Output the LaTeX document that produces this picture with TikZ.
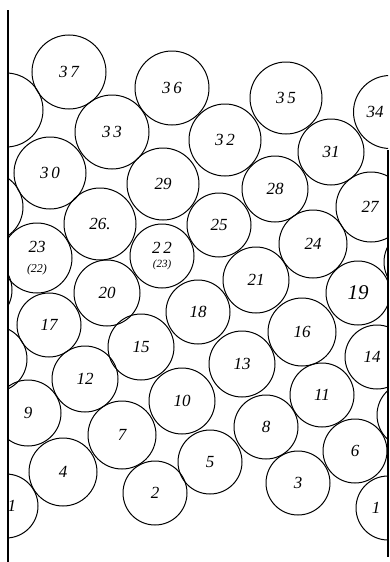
\documentclass[tikz,border=0pt]{standalone}
\usepackage{fontspec}
\setmainfont{Liberation Serif}
\begin{document}
\begin{tikzpicture}[x=1pt,y=-1pt,
  ball/.style={draw, circle, line width=1pt, inner sep=0pt, font=\fontsize{17}{19}\selectfont\itshape, align=center},
  wall/.style={line width=1.4pt}]
\useasboundingbox (0,0) rectangle (390,562);
\begin{scope}
\clip (8,0) rectangle (388,562);
% partial balls against the walls
\node[ball, minimum size=74pt] (pL1) at (6,110) {};
\node[ball, minimum size=70pt] (pL2) at (-12,207) {};
\node[ball, minimum size=66pt] (pL3) at (-21,290) {};
\node[ball, minimum size=66pt] (pL4) at (-6,359) {};
\node[ball, minimum size=66pt] (pR1) at (417,262) {};
\node[ball, minimum size=66pt] (pR2) at (410,415) {};
% numbered balls
\node[ball, minimum size=74pt] (b37) at (69,72) {3\,7};
\node[ball, minimum size=74pt] (b36) at (172,88) {3\,6};
\node[ball, minimum size=72pt] (b35) at (286,98) {3\,5};
\node[ball, minimum size=73pt] (b34) at (390,112) {\hspace*{-30pt}34};
\node[ball, minimum size=74pt] (b33) at (112,132) {3\,3};
\node[ball, minimum size=72pt] (b32) at (225,140) {3\,2};
\node[ball, minimum size=66pt] (b31) at (331,152) {31};
\node[ball, minimum size=72pt] (b30) at (50,173) {3\,0};
\node[ball, minimum size=72pt] (b29) at (163,184) {29};
\node[ball, minimum size=66pt] (b28) at (275,189) {28};
\node[ball, minimum size=70pt] (b27) at (371,207) {\hspace*{-2pt}27};
\node[ball, minimum size=72pt] (b26) at (100,224) {26.};
\node[ball, minimum size=64pt] (b25) at (219,225) {25};
\node[ball, minimum size=68pt] (b24) at (313,244) {24};
\node[ball, minimum size=70pt] (b23) at (37,258) {23\\[1pt]{\fontsize{12}{13}\selectfont(22)}};
\node[ball, minimum size=64pt] (b22) at (162,256) {2\,2\\[-5pt]{\fontsize{11}{12}\selectfont(23)}};
\node[ball, minimum size=66pt] (b21) at (256,280) {21};
\node[ball, minimum size=66pt] (b20) at (107,293) {20};
\node[ball, minimum size=64pt, font=\fontsize{21}{22}\selectfont\itshape] (b19) at (358,293) {19};
\node[ball, minimum size=64pt] (b18) at (198,312) {18};
\node[ball, minimum size=64pt] (b17) at (49,325) {17};
\node[ball, minimum size=68pt] (b16) at (302,332) {16};
\node[ball, minimum size=66pt] (b15) at (141,347) {15};
\node[ball, minimum size=64pt] (b14) at (377,357) {\hspace*{-10pt}14};
\node[ball, minimum size=66pt] (b13) at (242,364) {13};
\node[ball, minimum size=66pt] (b12) at (85,379) {12};
\node[ball, minimum size=64pt] (b11) at (322,395) {11};
\node[ball, minimum size=66pt] (b10) at (182,401) {10};
\node[ball, minimum size=66pt] (b9) at (28,413) {9};
\node[ball, minimum size=64pt] (b8) at (266,427) {8};
\node[ball, minimum size=68pt] (b7) at (122,435) {7};
\node[ball, minimum size=64pt] (b6) at (355,451) {6};
\node[ball, minimum size=64pt] (b5) at (210,462) {5};
\node[ball, minimum size=68pt] (b4) at (63,472) {4};
\node[ball, minimum size=64pt] (b3) at (298,483) {3};
\node[ball, minimum size=64pt] (b2) at (155,493) {2};
\node[ball, minimum size=64pt] (b1a) at (6,506) {\hspace*{12pt}1};
\node[ball, minimum size=64pt] (b1b) at (388,508) {\hspace*{-24pt}1};
\end{scope}
% walls
\coordinate (wLt) at (8,10);
\coordinate (wLb) at (8,562);
\coordinate (wRt) at (388,150);
\coordinate (wRb) at (388,557);
\draw[wall] (wLt) -- (wLb);
\draw[wall] (wRt) -- (wRb);
\end{tikzpicture}
\end{document}
